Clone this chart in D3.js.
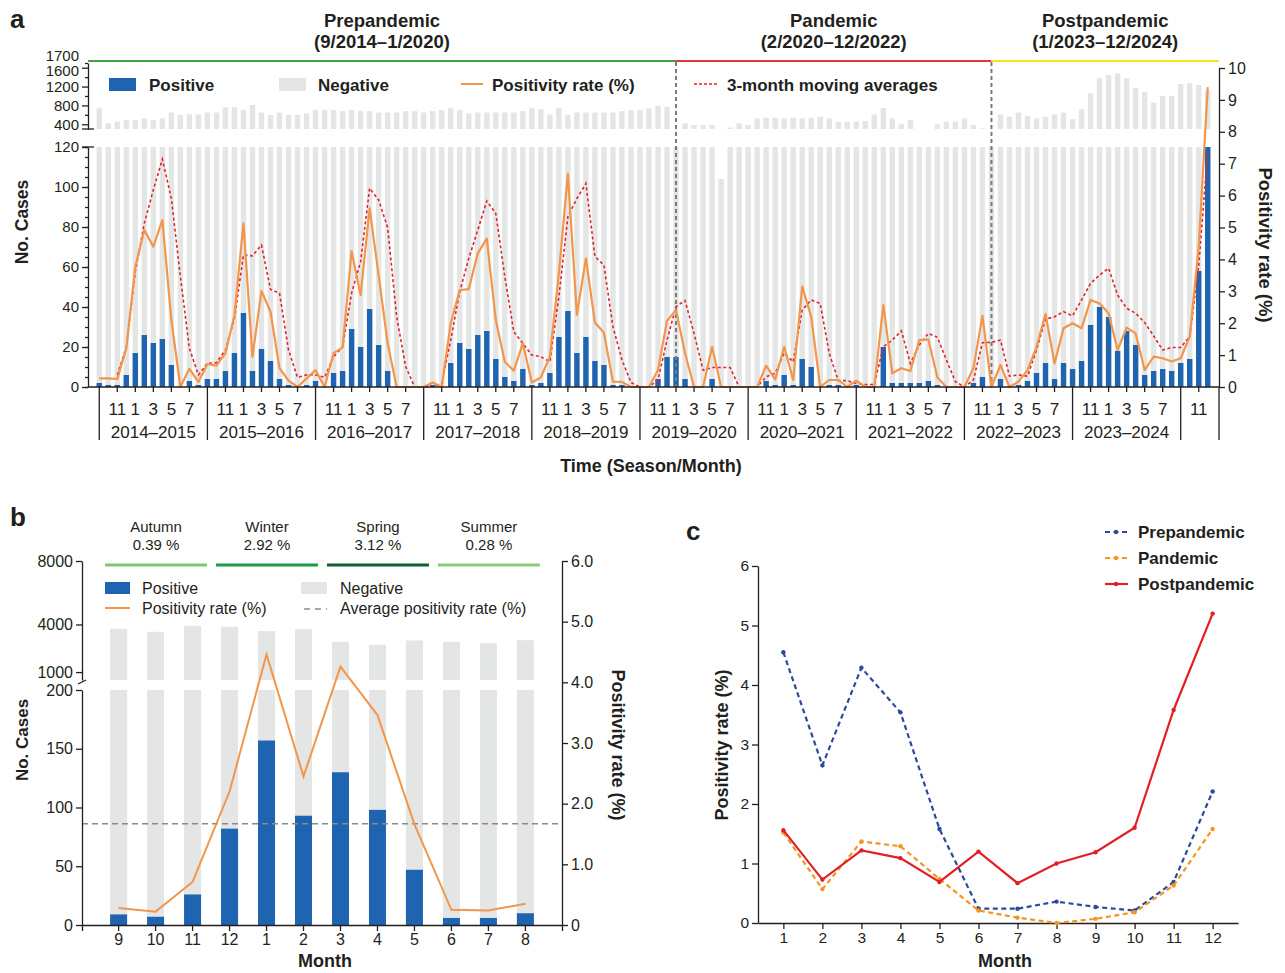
<!DOCTYPE html>
<html>
<head>
<meta charset="utf-8">
<script src="https://cdn.jsdelivr.net/npm/d3@7"></script>
<style>
    body { margin: 0; background: #fff; }
    svg text { font-family: Arial, "Liberation Sans", sans-serif; }
</style>
</head>
<body>
<svg id="figure" width="1285" height="973"></svg>
<script>
// ---- panel a: monthly data, 9/2014 .. 12/2024 ----
var seasonLabels = ["2014–2015", "2015–2016", "2016–2017", "2017–2018", "2018–2019",
    "2019–2020", "2020–2021", "2021–2022", "2022–2023", "2023–2024"];
var monthTickLabels = [11, 1, 3, 5, 7];

var positive = [
    2, 1, 1, 6, 17, 26, 22, 24, 11, 0, 3, 1,
    4, 4, 8, 17, 37, 8, 19, 13, 4, 1, 0, 1,
    3, 0, 7, 8, 29, 20, 39, 21, 8, 0, 0, 0,
    0, 1, 0, 12, 22, 19, 26, 28, 14, 5, 3, 9,
    1, 2, 7, 25, 38, 17, 25, 13, 11, 1, 1, 0,
    0, 0, 4, 15, 15, 4, 0, 0, 4, 0, 0, 0,
    0, 0, 3, 1, 6, 1, 14, 10, 0, 1, 1, 0,
    1, 0, 0, 20, 2, 2, 2, 2, 3, 1, 0, 0,
    0, 2, 5, 0, 4, 0, 1, 3, 7, 12, 4, 12,
    9, 13, 31, 40, 35, 18, 28, 21, 6, 8, 9, 8,
    12, 14, 58, 120
];
var negative = [
    740, 420, 455, 490, 490, 525, 490, 525, 650, 600, 610, 610,
    650, 650, 760, 760, 700, 810, 650, 600, 650, 600, 600, 630,
    700, 700, 700, 680, 700, 680, 680, 650, 650, 650, 680, 680,
    650, 680, 700, 740, 700, 630, 650, 650, 650, 650, 650, 680,
    740, 720, 610, 750, 600, 650, 650, 650, 650, 650, 680, 700,
    700, 740, 790, 770, 250, 420, 385, 385, 385, 104, 330, 420,
    385, 525, 540, 540, 525, 540, 525, 540, 560, 525, 450, 455,
    455, 470, 610, 750, 525, 400, 490, 250, 250, 400, 455, 455,
    525, 385, 315, 250, 610, 560, 650, 580, 525, 560, 610, 650,
    510, 720, 1055, 1375, 1445, 1480, 1375, 1175, 1090, 860, 1000, 1000,
    1255, 1270, 1235, 1105
];
var positivityRate = [
    0.27, 0.27, 0.25, 1.21, 3.77, 4.92, 4.40, 5.23, 2.10, 0, 0.57, 0.16,
    0.72, 0.67, 1.06, 2.26, 5.13, 0.95, 3.01, 2.36, 0.59, 0.20, 0, 0.27,
    0.53, 0, 1.06, 1.24, 4.26, 2.88, 5.60, 3.50, 1.37, 0, 0, 0,
    0, 0.14, 0, 2.00, 3.04, 3.07, 4.19, 4.65, 2.10, 0.79, 0.51, 1.37,
    0.14, 0.30, 0.95, 3.56, 6.68, 2.26, 4.03, 2.02, 1.70, 0.17, 0.16, 0,
    0, 0, 0.53, 2.08, 2.41, 1.06, 0, 0, 1.26, 0, 0, 0,
    0, 0, 0.67, 0.24, 1.26, 0.22, 3.15, 2.20, 0, 0.22, 0.22, 0,
    0.20, 0, 0, 2.57, 0.43, 0.59, 0.50, 1.47, 1.49, 0.30, 0, 0,
    0, 0.59, 2.23, 0, 0.69, 0, 0.17, 0.53, 1.26, 2.29, 0.74, 1.84,
    2.00, 1.84, 2.73, 2.62, 2.31, 1.16, 1.86, 1.68, 0.53, 0.95, 0.90, 0.80,
    0.90, 1.58, 4.40, 9.40
];
var movingAverage = [
    null, null, 0.38, 1.24, 3.62, 5.13, 6.18, 7.14, 5.91, 3.46, 1.21, 0.38,
    0.74, 0.76, 1.16, 2.15, 4.14, 4.11, 4.45, 3.06, 2.94, 1.16, 0.30, 0.38,
    0.38, 0.30, 0.95, 1.26, 2.94, 3.93, 6.23, 5.86, 5.00, 2.20, 0.64, 0,
    0, 0.01, 0.11, 1.47, 2.99, 4.03, 4.92, 5.83, 5.44, 3.46, 1.73, 1.37,
    1.00, 0.95, 0.79, 2.83, 5.34, 5.91, 6.38, 4.09, 3.82, 1.89, 0.85, 0.14,
    0, 0, 0.22, 1.47, 2.52, 2.71, 1.68, 0.53, 0.61, 0.61, 0.61, 0,
    0, 0, 0.32, 0.43, 1.06, 0.79, 2.41, 2.73, 2.62, 1.06, 0.20, 0.20,
    0.11, 0.08, 0.08, 1.26, 1.47, 1.76, 0.74, 1.32, 1.68, 1.56, 0.85, 0.17,
    0, 0.22, 1.39, 1.40, 1.47, 0.34, 0.38, 0.34, 1.16, 2.13, 2.20, 2.36,
    2.23, 2.73, 3.25, 3.51, 3.72, 2.88, 2.47, 2.31, 2.02, 1.60, 1.16, 1.24,
    1.24, 1.58, 3.80, 7.40
];
var phaseNames = ["Prepandemic", "Pandemic", "Postpandemic"];
var phaseSpans = ["(9/2014–1/2020)", "(2/2020–12/2022)", "(1/2023–12/2024)"];
var phaseBreaks = [64, 99];   // month index where the dashed line is drawn

// ---- panel b: pooled by calendar month ----
var monthsB = [9, 10, 11, 12, 1, 2, 3, 4, 5, 6, 7, 8];
var positiveB = [9, 7, 26, 82, 157, 93, 130, 98, 47, 6, 6, 10];
var negativeB = [3717, 3530, 3890, 3770, 3422, 3612, 2775, 2618, 2942, 2899, 2815, 3000];
var rateB = [0.28, 0.22, 0.71, 2.2, 4.46, 2.45, 4.26, 3.46, 1.66, 0.25, 0.24, 0.35];
var averageRateB = 1.67;
var seasonNamesB = ["Autumn", "Winter", "Spring", "Summer"];
var seasonRatesB = ["0.39 %", "2.92 %", "3.12 %", "0.28 %"];

// ---- panel c: positivity rate by month and period ----
var monthsC = [1, 2, 3, 4, 5, 6, 7, 8, 9, 10, 11, 12];
var prepandemicC = [4.55, 2.65, 4.29, 3.54, 1.58, 0.24, 0.24, 0.36, 0.27, 0.21, 0.69, 2.21];
var pandemicC = [1.52, 0.57, 1.37, 1.29, 0.74, 0.21, 0.09, 0, 0.07, 0.18, 0.63, 1.58];
var postpandemicC = [1.56, 0.73, 1.22, 1.09, 0.69, 1.20, 0.67, 1.00, 1.19, 1.60, 3.58, 5.20];

var BLUE = "#1f64b0", GRAY = "#e4e5e5", ORANGE = "#f2964c", RED = "#e5222c", INK = "#231f20";
var plain = d3.format("d");

var svg = d3.select("#figure");

function styleAxis(g, size) {
    g.attr("font-size", size).attr("font-family", null);
    g.selectAll("text").attr("fill", INK);
    g.selectAll("line, path").attr("stroke", INK).attr("stroke-width", 1.3);
    return g;
}

function label(x, y, text, size, weight, anchor, rotate) {
    var t = svg.append("text")
        .attr("x", x).attr("y", y)
        .attr("font-size", size)
        .attr("font-weight", weight || "normal")
        .attr("text-anchor", anchor || "middle")
        .attr("fill", INK)
        .text(text);
    if (rotate) {
        t.attr("transform", `rotate(${rotate},${x},${y})`);
    }
    return t;
}

// ================= panel a =================
var idx = d3.range(positive.length);
var xA = d3.scaleBand().domain(idx).range([88, 1219]).paddingInner(0.4).paddingOuter(0.95);
var yLowA = d3.scaleLinear().domain([0, 120]).range([387, 147]);
var yUpA = d3.scaleLinear().domain([300, 1700]).range([129, 63]);
var yRateA = d3.scaleLinear().domain([0, 10]).range([387, 68]);
function cx(i) { return xA(i) + xA.bandwidth() / 2; }

var gA = svg.append("g");

// negative bars, lower segment
gA.append("g").selectAll("rect")
    .data(idx)
    .enter()
    .append("rect")
    .attr("x", function (d) { return xA(d); })
    .attr("width", xA.bandwidth())
    .attr("y", function (d) { return yLowA(Math.min(negative[d], 120)); })
    .attr("height", function (d) { return yLowA(0) - yLowA(Math.min(negative[d], 120)); })
    .attr("fill", GRAY);

// negative bars, upper segment
gA.append("g").selectAll("rect")
    .data(idx.filter(function (d) { return negative[d] > 300; }))
    .enter()
    .append("rect")
    .attr("x", function (d) { return xA(d); })
    .attr("width", xA.bandwidth())
    .attr("y", function (d) { return yUpA(negative[d]); })
    .attr("height", function (d) { return yUpA(300) - yUpA(negative[d]); })
    .attr("fill", GRAY);

// positive bars
gA.append("g").selectAll("rect")
    .data(idx.filter(function (d) { return positive[d] > 0; }))
    .enter()
    .append("rect")
    .attr("x", function (d) { return xA(d); })
    .attr("width", xA.bandwidth())
    .attr("y", function (d) { return yLowA(Math.min(positive[d], 120)); })
    .attr("height", function (d) { return yLowA(0) - yLowA(Math.min(positive[d], 120)); })
    .attr("fill", BLUE);

// phase bars on top and dashed dividers
var phaseEdges = [88, cx(phaseBreaks[0]), cx(phaseBreaks[1]), 1219];
var phaseColors = ["#3fa23a", "#e0393b", "#ffe21a"];
phaseNames.forEach(function (name, k) {
    gA.append("line")
        .attr("x1", phaseEdges[k]).attr("x2", phaseEdges[k + 1])
        .attr("y1", 61).attr("y2", 61)
        .attr("stroke", phaseColors[k]).attr("stroke-width", 2);
    var mid = (phaseEdges[k] + phaseEdges[k + 1]) / 2;
    label(mid, 27, name, 18.5, "bold");
    label(mid, 48, phaseSpans[k], 18.5, "bold");
});
phaseBreaks.forEach(function (b) {
    gA.append("line")
        .attr("x1", cx(b)).attr("x2", cx(b))
        .attr("y1", 62).attr("y2", 387)
        .attr("stroke", "#7a7a7a").attr("stroke-width", 2)
        .attr("stroke-dasharray", "4,3");
});

// lines
var rateLine = d3.line()
    .x(function (d, i) { return cx(i); })
    .y(function (d) { return yRateA(d); });
gA.append("path")
    .attr("d", rateLine.defined(function (d) { return d !== null; })(movingAverage))
    .attr("fill", "none").attr("stroke", RED)
    .attr("stroke-width", 1.6).attr("stroke-dasharray", "3,2.5");
gA.append("path")
    .attr("d", rateLine(positivityRate))
    .attr("fill", "none").attr("stroke", ORANGE)
    .attr("stroke-width", 2.2).attr("stroke-linejoin", "round");

// left axes (broken)
styleAxis(gA.append("g").attr("transform", "translate(88,0)")
    .call(d3.axisLeft(yLowA).tickValues(d3.range(0, 121, 20)).tickSize(6).tickSizeOuter(0)), 15);
styleAxis(gA.append("g").attr("transform", "translate(88,0)")
    .call(d3.axisLeft(yLowA).tickValues(d3.range(0, 121, 5)).tickSize(3).tickFormat("")), 15)
    .select(".domain").remove();
var upAxis = styleAxis(gA.append("g").attr("transform", "translate(88,0)")
    .call(d3.axisLeft(yUpA).tickValues([400, 800, 1200, 1600]).tickFormat(plain)
        .tickSize(6).tickSizeOuter(0)), 15);
upAxis.selectAll(".tick text").filter(function (d) { return d === 1600; }).attr("dy", "0.5em");
styleAxis(gA.append("g").attr("transform", "translate(88,0)")
    .call(d3.axisLeft(yUpA).tickValues([600, 1000, 1400, 1700]).tickSize(3).tickFormat("")), 15)
    .select(".domain").remove();
label(79, 61, "1700", 15, "normal", "end");
[yUpA(300), yLowA(120)].forEach(function (y) {
    gA.append("line").attr("x1", 82).attr("x2", 94).attr("y1", y).attr("y2", y)
        .attr("stroke", INK).attr("stroke-width", 1.3);
});

// right axis
styleAxis(gA.append("g").attr("transform", "translate(1219,0)")
    .call(d3.axisRight(yRateA).tickValues(d3.range(0, 11)).tickSize(6).tickSizeOuter(0)), 16);
gA.append("line").attr("x1", 1219).attr("x2", 1219).attr("y1", 387).attr("y2", 440)
    .attr("stroke", INK).attr("stroke-width", 1.3);

// time axis: baseline, month ticks, season separators
gA.append("line").attr("x1", 88).attr("x2", 1219).attr("y1", 387).attr("y2", 387)
    .attr("stroke", INK).attr("stroke-width", 1.3);
idx.forEach(function (i) {
    var month = (i + 8) % 12 + 1;
    if (monthTickLabels.indexOf(month) >= 0) {
        gA.append("line").attr("x1", cx(i)).attr("x2", cx(i)).attr("y1", 387).attr("y2", 392)
            .attr("stroke", INK).attr("stroke-width", 1.3);
        label(cx(i), 415, month, 17);
    }
    if (month === 9) {
        gA.append("line").attr("x1", cx(i)).attr("x2", cx(i)).attr("y1", 387).attr("y2", 440)
            .attr("stroke", INK).attr("stroke-width", 1.3);
    }
});
seasonLabels.forEach(function (s, k) {
    label((cx(k * 12) + cx(k * 12 + 12)) / 2, 438, s, 17);
});

label(651, 472, "Time (Season/Month)", 18, "bold");
label(28, 222, "No. Cases", 17.5, "bold", "middle", -90);
label(1259, 245, "Positivity  rate (%)", 18.5, "bold", "middle", 90);
label(10, 28, "a", 26, "bold", "start");

// legend a
gA.append("rect").attr("x", 109).attr("y", 78).attr("width", 27).attr("height", 13).attr("fill", BLUE);
label(149, 91, "Positive", 17, "bold", "start");
gA.append("rect").attr("x", 279).attr("y", 78).attr("width", 27).attr("height", 13).attr("fill", GRAY);
label(318, 91, "Negative", 17, "bold", "start");
gA.append("line").attr("x1", 461).attr("x2", 483).attr("y1", 84).attr("y2", 84)
    .attr("stroke", ORANGE).attr("stroke-width", 2);
label(492, 91, "Positivity rate (%)", 17, "bold", "start");
gA.append("line").attr("x1", 694).attr("x2", 718).attr("y1", 84).attr("y2", 84)
    .attr("stroke", RED).attr("stroke-width", 1.6).attr("stroke-dasharray", "3,2");
label(727, 91, "3-month moving averages", 17, "bold", "start");

// ================= panel b =================
var xB = d3.scaleBand().domain(monthsB).range([82, 562]).paddingInner(0.54).paddingOuter(0.76);
var yLowB = d3.scaleLinear().domain([0, 200]).range([925, 690]);
var yUpB = d3.scaleLinear().domain([500, 8000]).range([680, 561]);
var yRateB = d3.scaleLinear().domain([0, 6]).range([925, 561]);
var gB = svg.append("g");
var idxB = d3.range(monthsB.length);

gB.append("g").selectAll("rect")
    .data(idxB)
    .enter()
    .append("rect")
    .attr("x", function (i) { return xB(monthsB[i]); })
    .attr("width", xB.bandwidth())
    .attr("y", yLowB(200))
    .attr("height", yLowB(0) - yLowB(200))
    .attr("fill", GRAY);
gB.append("g").selectAll("rect")
    .data(idxB)
    .enter()
    .append("rect")
    .attr("x", function (i) { return xB(monthsB[i]); })
    .attr("width", xB.bandwidth())
    .attr("y", function (i) { return yUpB(positiveB[i] + negativeB[i]); })
    .attr("height", function (i) { return yUpB(500) - yUpB(positiveB[i] + negativeB[i]); })
    .attr("fill", GRAY);
gB.append("g").selectAll("rect")
    .data(idxB)
    .enter()
    .append("rect")
    .attr("x", function (i) { return xB(monthsB[i]); })
    .attr("width", xB.bandwidth())
    .attr("y", function (i) { return yLowB(positiveB[i]); })
    .attr("height", function (i) { return yLowB(0) - yLowB(positiveB[i]); })
    .attr("fill", BLUE);

gB.append("line").attr("x1", 82).attr("x2", 562)
    .attr("y1", yRateB(averageRateB)).attr("y2", yRateB(averageRateB))
    .attr("stroke", "#8a8a8a").attr("stroke-width", 1.6).attr("stroke-dasharray", "6,4");

gB.append("path")
    .attr("d", d3.line()
        .x(function (d, i) { return xB(monthsB[i]) + xB.bandwidth() / 2; })
        .y(function (d) { return yRateB(d); })(rateB))
    .attr("fill", "none").attr("stroke", ORANGE).attr("stroke-width", 2);

// axes b
styleAxis(gB.append("g").attr("transform", "translate(82,0)")
    .call(d3.axisLeft(yLowB).tickValues([0, 50, 100, 150, 200]).tickSize(6).tickSizeOuter(0)), 16);
styleAxis(gB.append("g").attr("transform", "translate(82,0)")
    .call(d3.axisLeft(yUpB).tickValues([1000, 4000, 8000]).tickFormat(plain)
        .tickSize(6).tickSizeOuter(0)), 16);
gB.append("line").attr("x1", 78).attr("x2", 86).attr("y1", 684).attr("y2", 680)
    .attr("stroke", INK).attr("stroke-width", 1.3);
styleAxis(gB.append("g").attr("transform", "translate(562,0)")
    .call(d3.axisRight(yRateB).tickValues(d3.range(0, 7))
        .tickFormat(function (d) { return d === 0 ? "0" : d.toFixed(1); })
        .tickSize(6).tickSizeOuter(0)), 16);
styleAxis(gB.append("g").attr("transform", "translate(0,925)")
    .call(d3.axisBottom(xB).tickSize(6).tickSizeOuter(6)), 16);

// season header
var seasonColors = ["#80c66c", "#1f9a4c", "#0c5f2e", "#8ccb78"];
seasonNamesB.forEach(function (s, k) {
    var first = monthsB[k * 3], last = monthsB[k * 3 + 2];
    var x0 = xB(first) - 5, x1 = xB(last) + xB.bandwidth() + 6;
    gB.append("line").attr("x1", x0).attr("x2", x1).attr("y1", 565).attr("y2", 565)
        .attr("stroke", seasonColors[k]).attr("stroke-width", 3);
    label((x0 + x1) / 2, 532, s, 15);
    label((x0 + x1) / 2, 550, seasonRatesB[k], 15);
});

// legend b
gB.append("rect").attr("x", 105).attr("y", 582).attr("width", 25).attr("height", 12).attr("fill", BLUE);
label(142, 594, "Positive", 16, "normal", "start");
gB.append("rect").attr("x", 301).attr("y", 582).attr("width", 26).attr("height", 12).attr("fill", GRAY);
label(340, 594, "Negative", 16, "normal", "start");
gB.append("line").attr("x1", 105).attr("x2", 130).attr("y1", 608).attr("y2", 608)
    .attr("stroke", ORANGE).attr("stroke-width", 2);
label(142, 614, "Positivity rate (%)", 16, "normal", "start");
gB.append("line").attr("x1", 304).attr("x2", 327).attr("y1", 609).attr("y2", 609)
    .attr("stroke", "#8a8a8a").attr("stroke-width", 1.6).attr("stroke-dasharray", "6,5");
label(340, 614, "Average positivity rate (%)", 16, "normal", "start");

label(325, 967, "Month", 18, "bold");
label(28, 740, "No. Cases", 17, "bold", "middle", -90);
label(612, 745, "Positivity rate (%)", 18, "bold", "middle", 90);
label(10, 526, "b", 26, "bold", "start");

// ================= panel c =================
var xC = d3.scalePoint().domain(monthsC).range([758, 1238]).padding(0.65);
var yC = d3.scaleLinear().domain([0, 6]).range([923, 566]);
var gC = svg.append("g");

styleAxis(gC.append("g").attr("transform", "translate(758,0)")
    .call(d3.axisLeft(yC).ticks(6).tickSize(6).tickSizeOuter(0)), 15.5);
styleAxis(gC.append("g").attr("transform", "translate(0,923)")
    .call(d3.axisBottom(xC).tickSize(6).tickSizeOuter(0)), 15.5);

var seriesC = [
    { name: "Prepandemic", values: prepandemicC, color: "#2a4b9b", dash: "5,3.5" },
    { name: "Pandemic", values: pandemicC, color: "#f7941d", dash: "5,3.5" },
    { name: "Postpandemic", values: postpandemicC, color: "#e31f26", dash: null }
];
var lineC = d3.line()
    .x(function (d, i) { return xC(monthsC[i]); })
    .y(function (d) { return yC(d); });
seriesC.forEach(function (s, k) {
    gC.append("path")
        .attr("d", lineC(s.values))
        .attr("fill", "none").attr("stroke", s.color).attr("stroke-width", 2.2)
        .attr("stroke-dasharray", s.dash);
    gC.append("g").selectAll("circle")
        .data(s.values)
        .enter()
        .append("circle")
        .attr("cx", function (d, i) { return xC(monthsC[i]); })
        .attr("cy", function (d) { return yC(d); })
        .attr("r", 2.2)
        .attr("fill", s.color);

    var ly = 532 + k * 26;
    gC.append("line").attr("x1", 1105).attr("x2", 1128).attr("y1", ly).attr("y2", ly)
        .attr("stroke", s.color).attr("stroke-width", 2.2).attr("stroke-dasharray", s.dash);
    gC.append("circle").attr("cx", 1116).attr("cy", ly).attr("r", 2.2).attr("fill", s.color);
    label(1138, ly + 6, s.name, 17, "bold", "start");
});

label(1005, 967, "Month", 18, "bold");
label(728, 745, "Positivity rate (%)", 18, "bold", "middle", -90);
label(686, 540, "c", 26, "bold", "start");
</script>
</body>
</html>
